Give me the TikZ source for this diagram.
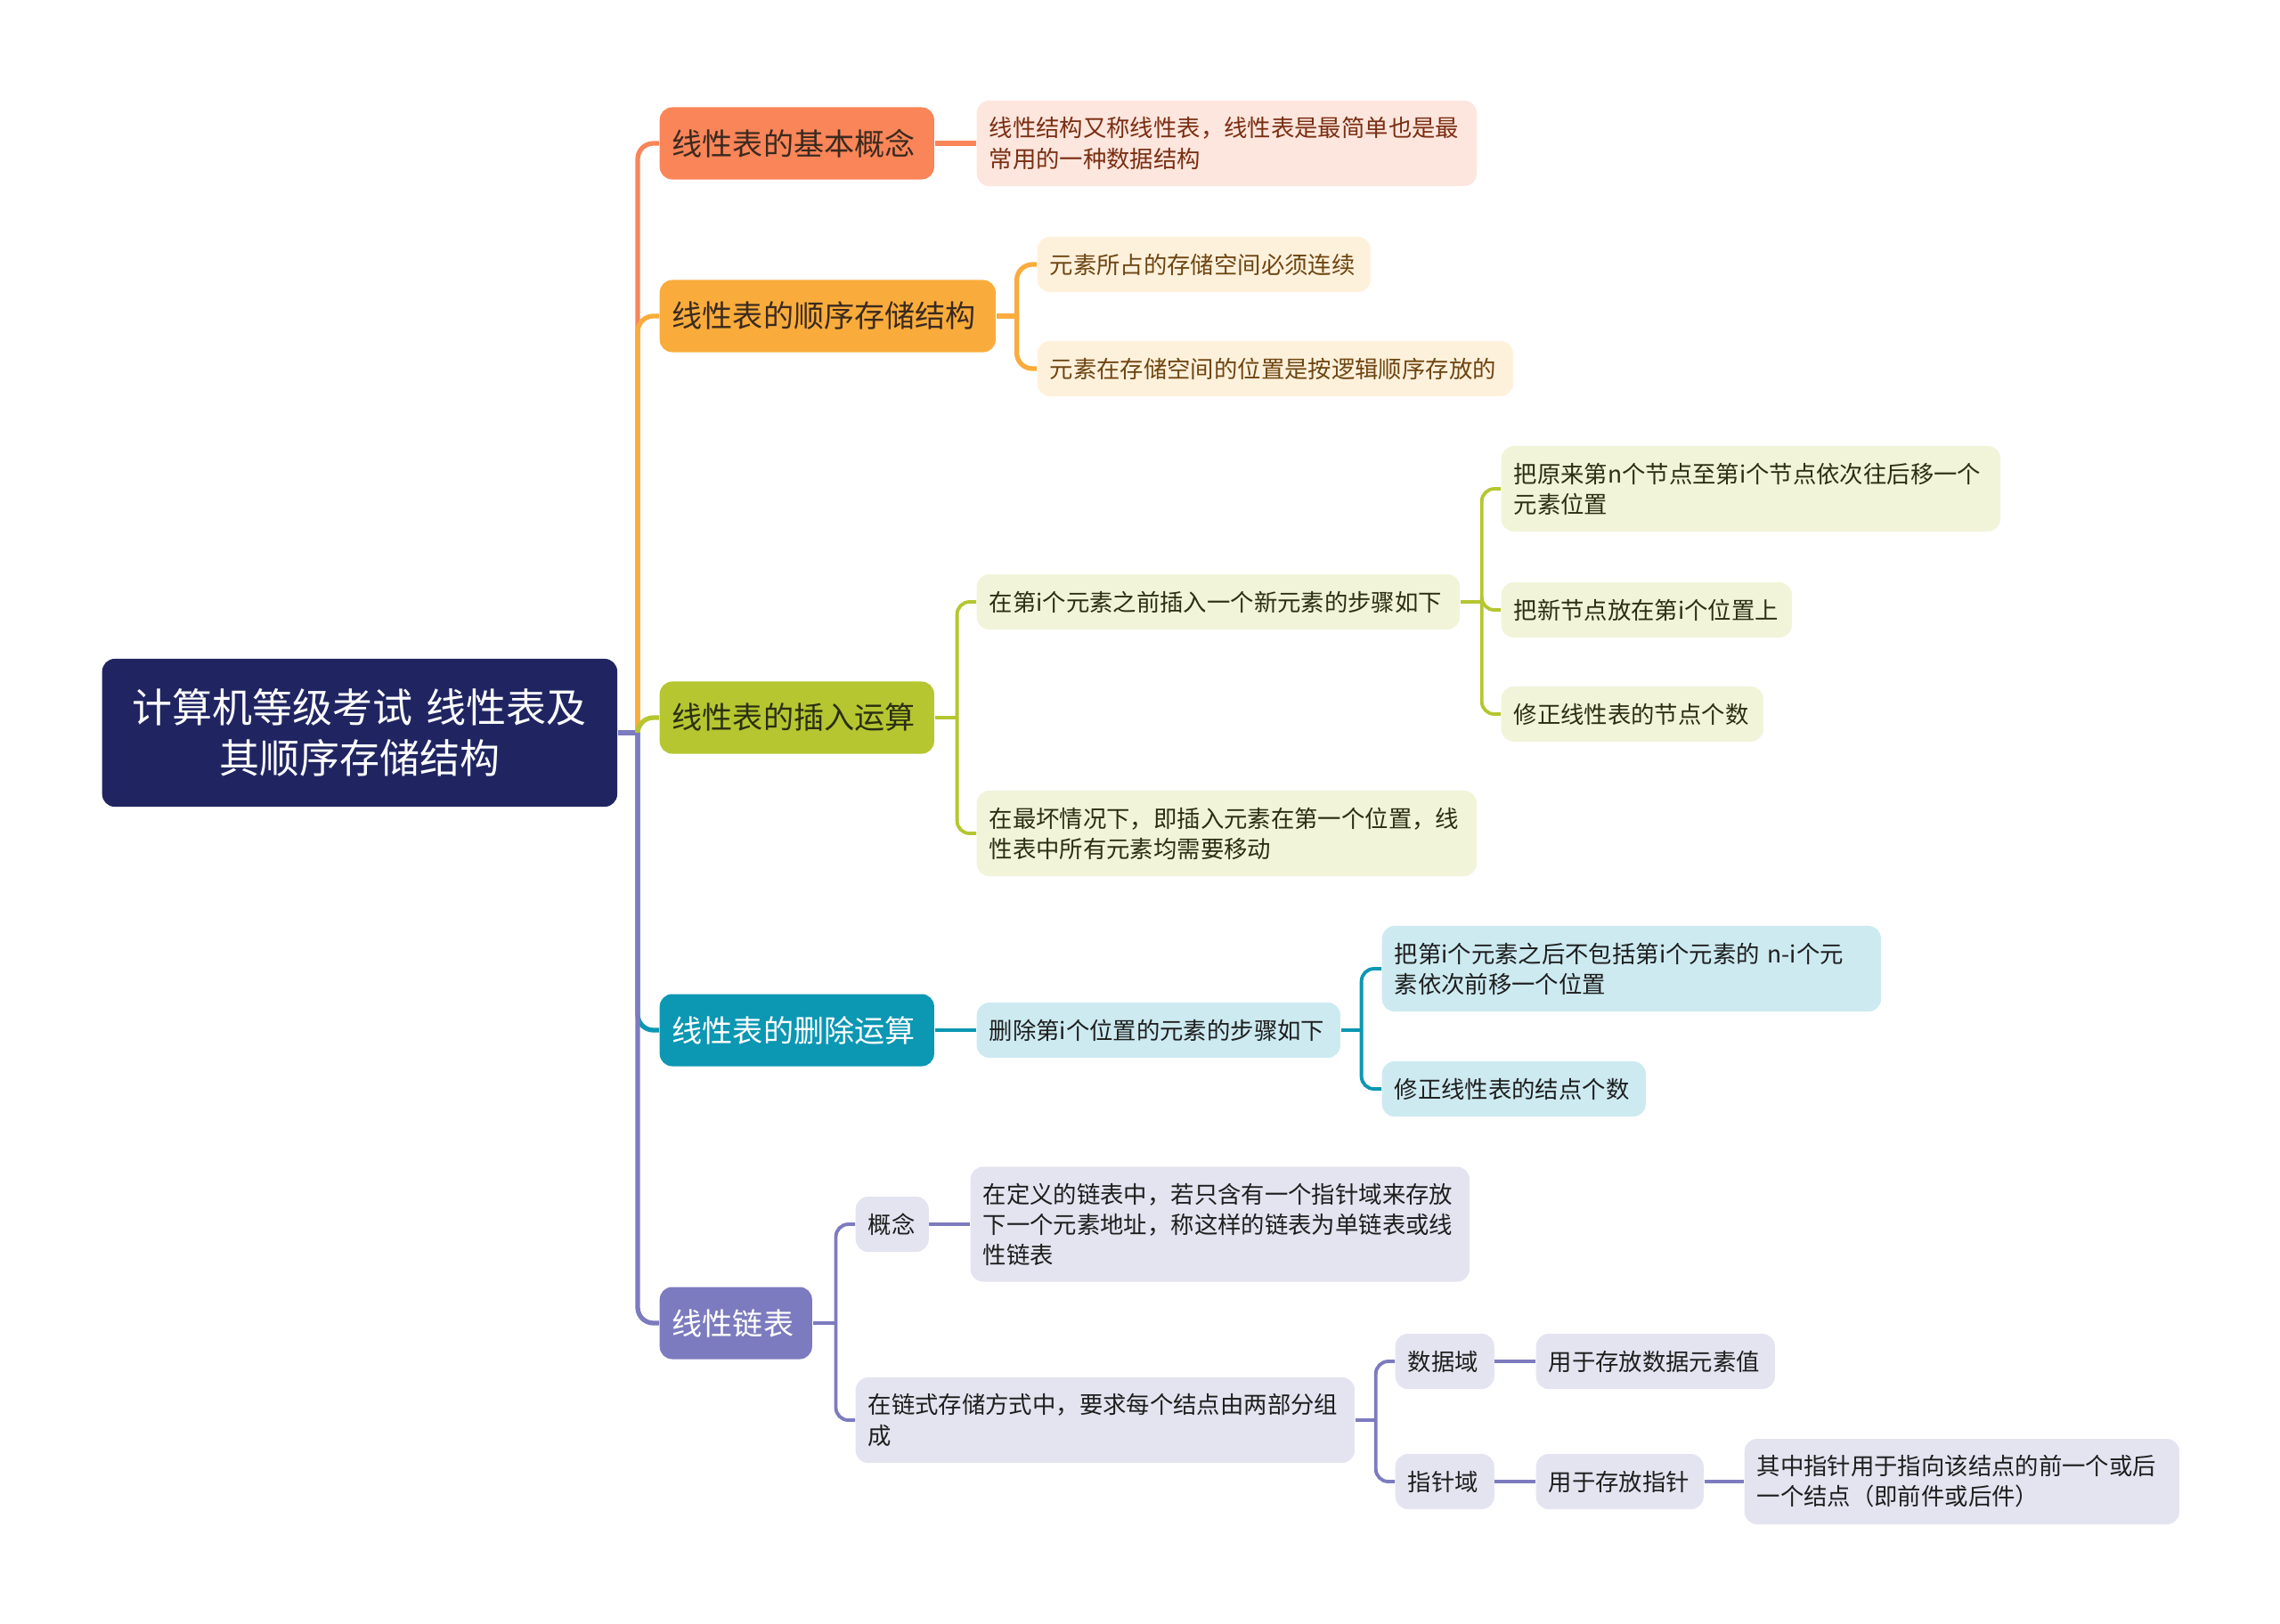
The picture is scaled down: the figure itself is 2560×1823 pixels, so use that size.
\documentclass[tikz,border=0pt]{standalone}
\usepackage{fontspec}
\setmainfont{Noto Sans CJK SC}
\usepackage{tikz}

\definecolor{navy}{HTML}{202562}
\definecolor{coral}{HTML}{F98558}
\definecolor{amber}{HTML}{F9AC3B}
\definecolor{lime}{HTML}{B5C630}
\definecolor{teal}{HTML}{0C97B3}
\definecolor{lilac}{HTML}{7D7BBF}
\definecolor{coralbg}{HTML}{FDE6DD}
\definecolor{amberbg}{HTML}{FEF1DC}
\definecolor{limebg}{HTML}{F1F4D9}
\definecolor{tealbg}{HTML}{CDEAF1}
\definecolor{lilacbg}{HTML}{E4E4F1}
\definecolor{coraltxt}{HTML}{7A2E12}
\definecolor{ambertxt}{HTML}{6E4511}
\definecolor{darktxt}{HTML}{3A2A20}
\definecolor{olivetxt}{HTML}{2B2F12}
\definecolor{inktxt}{HTML}{1E1E1E}

\begin{document}
\begin{tikzpicture}[x=0.01cm,y=-0.01cm,
	box/.style={rounded corners=4pt, inner xsep=0.14cm, inner ysep=1pt, anchor=west, align=left},
	rootbox/.style={box, fill=navy, text=white, align=center, text width=5.50cm, minimum height=1.66cm,
		font=\fontsize{12.8pt}{16.2pt}\selectfont},
	topicbox/.style={box, minimum height=0.81cm, font=\fontsize{9.7pt}{12pt}\selectfont},
	leafbox/.style={box, font=\fontsize{7.5pt}{9.7pt}\selectfont},
	one/.style={minimum height=0.62cm},
	two/.style={minimum height=0.96cm},
	three/.style={minimum height=1.29cm},
	lk/.style={line width=1.5pt, rounded corners=5pt},
	sublk/.style={line width=1.1pt, rounded corners=4pt}]

	\useasboundingbox (0,0) rectangle (2560,1823);

	% root
	\node[rootbox] (root) at (114,823) {计算机等级考试 线性表及\\其顺序存储结构};
	\coordinate (j0) at (716,823);

	% topics
	\node[topicbox, fill=coral, text=darktxt, text width=2.80cm] (b1) at (740,161) {线性表的基本概念};
	\node[topicbox, fill=amber, text=darktxt, text width=3.49cm] (b2) at (740,355) {线性表的顺序存储结构};
	\node[topicbox, fill=lime, text=olivetxt, text width=2.80cm] (b3) at (740,806) {线性表的插入运算};
	\node[topicbox, fill=teal, text=white, text width=2.80cm] (b4) at (740,1157) {线性表的删除运算};
	\node[topicbox, fill=lilac, text=white, text width=1.43cm] (b5) at (740,1486) {线性链表};

	% basic concept
	\node[leafbox, two, fill=coralbg, text=coraltxt, text width=5.33cm] (l1) at (1096,161)
		{线性结构又称线性表，线性表是最简单也是最\\常用的一种数据结构};

	% sequential storage
	\node[leafbox, one, fill=amberbg, text=ambertxt, text width=3.46cm] (l2a) at (1164,297) {元素所占的存储空间必须连续};
	\node[leafbox, one, fill=amberbg, text=ambertxt, text width=5.06cm] (l2b) at (1164,414) {元素在存储空间的位置是按逻辑顺序存放的};

	% insertion
	\node[leafbox, one, fill=limebg, text=olivetxt, text width=5.14cm] (c3a) at (1096,676) {在第i个元素之前插入一个新元素的步骤如下};
	\node[leafbox, two, fill=limebg, text=olivetxt, text width=5.33cm] (c3b) at (1096,936)
		{在最坏情况下，即插入元素在第一个位置，线\\性表中所有元素均需要移动};
	\node[leafbox, two, fill=limebg, text=olivetxt, text width=5.32cm] (d3a) at (1685,549)
		{把原来第n个节点至第i个节点依次往后移一个\\元素位置};
	\node[leafbox, one, fill=limebg, text=olivetxt, text width=2.98cm] (d3b) at (1685,685) {把新节点放在第i个位置上};
	\node[leafbox, one, fill=limebg, text=olivetxt, text width=2.66cm] (d3c) at (1685,802) {修正线性表的节点个数};

	% deletion
	\node[leafbox, one, fill=tealbg, text=inktxt, text width=3.80cm] (c4) at (1096,1157) {删除第i个位置的元素的步骤如下};
	\node[leafbox, two, fill=tealbg, text=inktxt, text width=5.32cm] (d4a) at (1551,1088)
		{把第i个元素之后不包括第i个元素的 n-i个元\\素依次前移一个位置};
	\node[leafbox, one, fill=tealbg, text=inktxt, text width=2.68cm] (d4b) at (1551,1223) {修正线性表的结点个数};

	% linked list
	\node[leafbox, one, fill=lilacbg, text=inktxt, text width=0.54cm] (c5a) at (960,1375) {概念};
	\node[leafbox, three, fill=lilacbg, text=inktxt, text width=5.32cm] (d5a) at (1089,1375)
		{在定义的链表中，若只含有一个指针域来存放\\下一个元素地址，称这样的链表为单链表或线\\性链表};
	\node[leafbox, two, fill=lilacbg, text=inktxt, text width=5.32cm] (c5b) at (960,1595)
		{在链式存储方式中，要求每个结点由两部分组\\成};
	\node[leafbox, one, fill=lilacbg, text=inktxt, text width=0.83cm] (d5b) at (1566,1529) {数据域};
	\node[leafbox, one, fill=lilacbg, text=inktxt, text width=2.40cm] (e5b) at (1724,1529) {用于存放数据元素值};
	\node[leafbox, one, fill=lilacbg, text=inktxt, text width=0.83cm] (d5c) at (1566,1664) {指针域};
	\node[leafbox, one, fill=lilacbg, text=inktxt, text width=1.60cm] (e5c) at (1724,1664) {用于存放指针};
	\node[leafbox, two, fill=lilacbg, text=inktxt, text width=4.60cm] (f5c) at (1958,1664)
		{其中指针用于指向该结点的前一个或后\\一个结点（即前件或后件）};

	% trunk
	\draw[lk, lilac] (root.east) -- (j0);
	\draw[lk, coral] (j0) |- (b1.west);
	\draw[lk, amber] (j0) |- (b2.west);
	\draw[lk, lime] (j0) |- (b3.west);
	\draw[lk, teal] (j0) |- (b4.west);
	\draw[lk, lilac] (j0) |- (b5.west);

	% branch 1, 2
	\draw[lk, coral] (b1.east) -- (l1.west);
	\draw[lk, amber] (b2.east) -- ++(23,0) coordinate (j2);
	\draw[lk, amber] (j2) |- (l2a.west);
	\draw[lk, amber] (j2) |- (l2b.west);

	% branch 3
	\draw[sublk, lime] (b3.east) -- ++(25,0) coordinate (j3);
	\draw[sublk, lime] (j3) |- (c3a.west);
	\draw[sublk, lime] (j3) |- (c3b.west);
	\draw[sublk, lime] (c3a.east) -- ++(24,0) coordinate (j3a);
	\draw[sublk, lime] (j3a) |- (d3a.west);
	\draw[sublk, lime] (j3a) |- (d3b.west);
	\draw[sublk, lime] (j3a) |- (d3c.west);

	% branch 4
	\draw[sublk, teal] (b4.east) -- (c4.west);
	\draw[sublk, teal] (c4.east) -- ++(23,0) coordinate (j4);
	\draw[sublk, teal] (j4) |- (d4a.west);
	\draw[sublk, teal] (j4) |- (d4b.west);

	% branch 5
	\draw[sublk, lilac] (b5.east) -- ++(26,0) coordinate (j5);
	\draw[sublk, lilac] (j5) |- (c5a.west);
	\draw[sublk, lilac] (j5) |- (c5b.west);
	\draw[sublk, lilac] (c5a.east) -- (d5a.west);
	\draw[sublk, lilac] (c5b.east) -- ++(23,0) coordinate (j5b);
	\draw[sublk, lilac] (j5b) |- (d5b.west);
	\draw[sublk, lilac] (j5b) |- (d5c.west);
	\draw[sublk, lilac] (d5b.east) -- (e5b.west);
	\draw[sublk, lilac] (d5c.east) -- (e5c.west);
	\draw[sublk, lilac] (e5c.east) -- (f5c.west);
\end{tikzpicture}
\end{document}
